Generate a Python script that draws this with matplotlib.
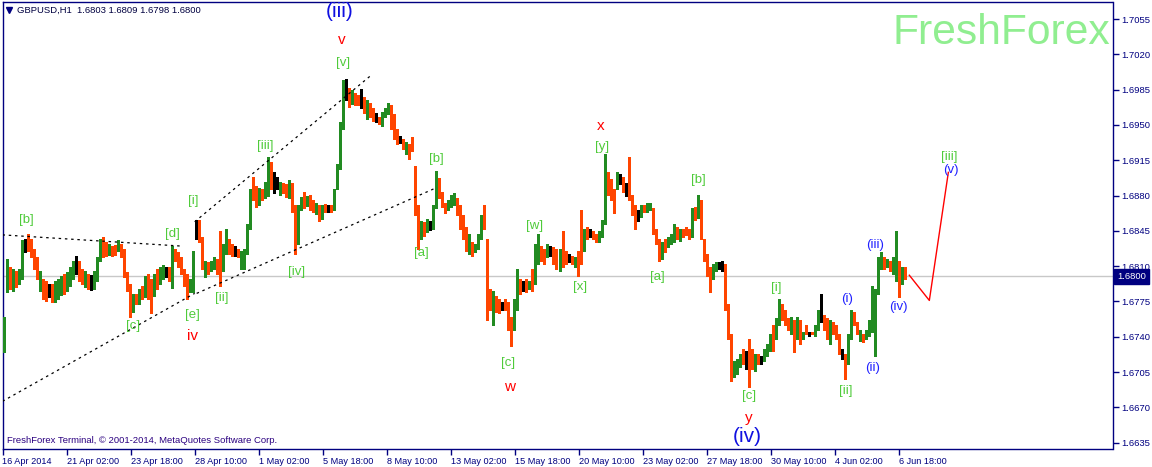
import numpy as np
import matplotlib
matplotlib.use("Agg")
import matplotlib.pyplot as plt
import matplotlib.transforms as mtransforms

plt.rcParams['font.family'] = ['Liberation Sans', 'DejaVu Sans']

# GBPUSD H1 in 3-hour steps (low / high / colour of the bar)
bar_low = [
    1.6725, 1.6784, 1.6787, 1.6785, 1.6789, 1.6792, 1.6797, 1.6824, 1.6825, 1.6819,
    1.6807, 1.6797, 1.6785, 1.6777, 1.6775, 1.6779, 1.6774, 1.6774, 1.6777, 1.6781,
    1.6782, 1.6785, 1.6790, 1.6797, 1.6802, 1.6795, 1.6792, 1.6789, 1.6787, 1.6786,
    1.6787, 1.6795, 1.6815, 1.6819, 1.6820, 1.6821, 1.6820, 1.6821, 1.6825, 1.6819,
    1.6799, 1.6785, 1.6760, 1.6765, 1.6772, 1.6772, 1.6777, 1.6779, 1.6777, 1.6764,
    1.6780, 1.6787, 1.6792, 1.6797, 1.6799, 1.6795, 1.6788, 1.6815, 1.6809, 1.6802,
    1.6790, 1.6777, 1.6784, 1.6784, 1.6837, 1.6834, 1.6807, 1.6799, 1.6802, 1.6805,
    1.6807, 1.6802, 1.6790, 1.6805, 1.6822, 1.6822, 1.6820, 1.6820, 1.6819, 1.6807,
    1.6807, 1.6822, 1.6847, 1.6876, 1.6869, 1.6871, 1.6876, 1.6878, 1.6880, 1.6886,
    1.6883, 1.6886, 1.6881, 1.6883, 1.6879, 1.6878, 1.6864, 1.6822, 1.6832, 1.6866,
    1.6868, 1.6870, 1.6866, 1.6864, 1.6862, 1.6855, 1.6857, 1.6864, 1.6864, 1.6864,
    1.6866, 1.6886, 1.6906, 1.6946, 1.6975, 1.6968, 1.6971, 1.6970, 1.6970, 1.6967,
    1.6962, 1.6956, 1.6958, 1.6954, 1.6953, 1.6951, 1.6949, 1.6958, 1.6961, 1.6946,
    1.6936, 1.6931, 1.6932, 1.6926, 1.6921, 1.6916, 1.6924, 1.6861, 1.6827, 1.6837,
    1.6840, 1.6844, 1.6846, 1.6847, 1.6868, 1.6878, 1.6869, 1.6863, 1.6866, 1.6869,
    1.6871, 1.6861, 1.6847, 1.6837, 1.6825, 1.6822, 1.6820, 1.6824, 1.6827, 1.6837,
    1.6847, 1.6757, 1.6767, 1.6752, 1.6765, 1.6764, 1.6767, 1.6767, 1.6747, 1.6731,
    1.6747, 1.6767, 1.6782, 1.6785, 1.6784, 1.6787, 1.6785, 1.6792, 1.6812, 1.6815,
    1.6812, 1.6819, 1.6820, 1.6812, 1.6807, 1.6805, 1.6809, 1.6812, 1.6814, 1.6812,
    1.6809, 1.6800, 1.6812, 1.6825, 1.6837, 1.6839, 1.6837, 1.6834, 1.6834, 1.6839,
    1.6852, 1.6881, 1.6876, 1.6863, 1.6886, 1.6891, 1.6884, 1.6880, 1.6876, 1.6861,
    1.6847, 1.6855, 1.6859, 1.6864, 1.6864, 1.6866, 1.6842, 1.6832, 1.6815, 1.6817,
    1.6824, 1.6829, 1.6832, 1.6834, 1.6837, 1.6835, 1.6839, 1.6841, 1.6837, 1.6839,
    1.6856, 1.6858, 1.6837, 1.6815, 1.6800, 1.6784, 1.6797, 1.6805, 1.6807, 1.6805,
    1.6767, 1.6738, 1.6696, 1.6700, 1.6703, 1.6710, 1.6713, 1.6708, 1.6690, 1.6708,
    1.6706, 1.6713, 1.6713, 1.6716, 1.6721, 1.6726, 1.6726, 1.6738, 1.6752, 1.6757,
    1.6752, 1.6747, 1.6743, 1.6725, 1.6738, 1.6733, 1.6738, 1.6743, 1.6741, 1.6743,
    1.6741, 1.6747, 1.6755, 1.6747, 1.6738, 1.6733, 1.6743, 1.6738, 1.6723, 1.6718,
    1.6698, 1.6713, 1.6738, 1.6752, 1.6743, 1.6736, 1.6735, 1.6738, 1.6741, 1.6745,
    1.6721, 1.6782, 1.6807, 1.6807, 1.6809, 1.6805, 1.6802, 1.6795, 1.6779, 1.6792,
    1.6797,
]
bar_high = [
    1.6760, 1.6817, 1.6809, 1.6807, 1.6805, 1.6807, 1.6836, 1.6837, 1.6842, 1.6837,
    1.6827, 1.6819, 1.6805, 1.6797, 1.6795, 1.6792, 1.6792, 1.6795, 1.6797, 1.6800,
    1.6802, 1.6804, 1.6809, 1.6815, 1.6820, 1.6815, 1.6807, 1.6805, 1.6802, 1.6801,
    1.6805, 1.6819, 1.6837, 1.6839, 1.6834, 1.6832, 1.6830, 1.6831, 1.6836, 1.6832,
    1.6827, 1.6804, 1.6792, 1.6782, 1.6782, 1.6787, 1.6790, 1.6800, 1.6802, 1.6797,
    1.6802, 1.6807, 1.6809, 1.6811, 1.6809, 1.6809, 1.6830, 1.6827, 1.6824, 1.6819,
    1.6807, 1.6802, 1.6797, 1.6825, 1.6856, 1.6856, 1.6839, 1.6815, 1.6814, 1.6815,
    1.6819, 1.6817, 1.6845, 1.6832, 1.6847, 1.6837, 1.6832, 1.6830, 1.6827, 1.6825,
    1.6827, 1.6852, 1.6886, 1.6898, 1.6889, 1.6887, 1.6886, 1.6893, 1.6918, 1.6913,
    1.6903, 1.6898, 1.6893, 1.6892, 1.6891, 1.6895, 1.6892, 1.6871, 1.6871, 1.6879,
    1.6884, 1.6880, 1.6881, 1.6876, 1.6873, 1.6871, 1.6871, 1.6872, 1.6871, 1.6871,
    1.6886, 1.6911, 1.6953, 1.6995, 1.6996, 1.6987, 1.6985, 1.6982, 1.6980, 1.6986,
    1.6978, 1.6975, 1.6972, 1.6967, 1.6962, 1.6958, 1.6963, 1.6967, 1.6972, 1.6970,
    1.6961, 1.6946, 1.6939, 1.6936, 1.6933, 1.6931, 1.6938, 1.6909, 1.6871, 1.6855,
    1.6854, 1.6857, 1.6855, 1.6871, 1.6904, 1.6897, 1.6884, 1.6873, 1.6876, 1.6881,
    1.6883, 1.6878, 1.6871, 1.6861, 1.6849, 1.6842, 1.6834, 1.6832, 1.6842, 1.6861,
    1.6871, 1.6837, 1.6787, 1.6785, 1.6780, 1.6777, 1.6774, 1.6777, 1.6774, 1.6760,
    1.6777, 1.6807, 1.6797, 1.6795, 1.6797, 1.6795, 1.6807, 1.6832, 1.6842, 1.6830,
    1.6827, 1.6832, 1.6830, 1.6829, 1.6827, 1.6827, 1.6845, 1.6825, 1.6822, 1.6820,
    1.6819, 1.6825, 1.6866, 1.6847, 1.6849, 1.6847, 1.6845, 1.6842, 1.6845, 1.6856,
    1.6921, 1.6903, 1.6896, 1.6886, 1.6903, 1.6901, 1.6898, 1.6892, 1.6918, 1.6881,
    1.6871, 1.6866, 1.6871, 1.6871, 1.6873, 1.6873, 1.6868, 1.6847, 1.6837, 1.6834,
    1.6837, 1.6839, 1.6842, 1.6852, 1.6849, 1.6847, 1.6847, 1.6849, 1.6847, 1.6868,
    1.6869, 1.6881, 1.6876, 1.6837, 1.6822, 1.6809, 1.6812, 1.6814, 1.6814, 1.6815,
    1.6812, 1.6772, 1.6743, 1.6716, 1.6718, 1.6723, 1.6728, 1.6726, 1.6738, 1.6728,
    1.6723, 1.6723, 1.6721, 1.6728, 1.6733, 1.6743, 1.6752, 1.6759, 1.6777, 1.6772,
    1.6767, 1.6759, 1.6760, 1.6757, 1.6760, 1.6757, 1.6745, 1.6752, 1.6745, 1.6745,
    1.6752, 1.6767, 1.6782, 1.6762, 1.6759, 1.6757, 1.6755, 1.6752, 1.6743, 1.6728,
    1.6723, 1.6743, 1.6767, 1.6765, 1.6755, 1.6747, 1.6743, 1.6747, 1.6757, 1.6790,
    1.6787, 1.6819, 1.6824, 1.6819, 1.6817, 1.6815, 1.6819, 1.6845, 1.6815, 1.6809,
    1.6809,
]
# g = up bar, r = down bar, k = doji
bar_dir = ("ggrgrggkrr" "rrgrrkrggg" "rgggkrrgrk" "gggrrgrrgr" "rrrgrgrgrr"
           "grggkrgrrr" "rrggkrrgrg" "grrggrrkrg" "gggrrgrggr" "kkgrrgrrgg"
           "rgrrgrgrkr" "ggggkrgrrk" "rgrrkrgggr" "rrkrgrrrrg" "rgkggrrrgg"
           "grrrrgrggg" "rrrgrrkrrr" "ggrkrgrggr" "rgkrrgrrkr" "grrgrkrrgg"
           "grrrgkrkrr" "rkgrggrrrg" "rgggrgrrrg" "rgrrrrggkk" "rrrgggrkrr"
           "grkgggrggr" "rrgrgrgrkr" "ggkrrgrrrk" "rggrrgrggg" "gggrgrggrg" "r")
hours_per_bar = 3
last_price = 1.6800

# projected path
proj_h = [906, 926, 945]
proj_p = [1.6801, 1.6776, 1.6903]

# dotted trend lines (hour, price) pairs
trend_lines = [
    ((0, 1.6841), (177, 1.6830)),
    ((0, 1.6676), (192, 1.6783)),
    ((194, 1.6783), (434, 1.6888)),
    ((192, 1.6854), (368, 1.6999)),
]

# wave labels
lab_text = ["(iii)", "v", "[v]", "[b]", "[d]", "[i]", "[iii]", "[iv]", "[ii]", "[e]",
            "[c]", "iv", "[a]", "[b]", "[w]", "[x]", "[c]", "w", "x", "[y]",
            "[a]", "[b]", "[i]", "[c]", "(i)", "(ii)", "(iii)", "(iv)", "[ii]", "y",
            "(iv)", "[iii]", "(v)"]
lab_h = [337, 339, 340, 24, 170, 191, 263, 294, 219, 190,
         130, 190, 418, 433, 532, 577, 505, 507, 598, 599,
         654, 695, 773, 746, 844, 869, 872, 895, 842, 746,
         744, 946, 948]
lab_p = [1.7062, 1.7034, 1.7011, 1.6856, 1.6842, 1.6875, 1.6929, 1.6804, 1.6778, 1.6762,
         1.6751, 1.6741, 1.6823, 1.6916, 1.6850, 1.6789, 1.6714, 1.6690, 1.6949, 1.6928,
         1.6799, 1.6895, 1.6788, 1.6681, 1.6777, 1.6709, 1.6831, 1.6769, 1.6686, 1.6659,
         1.6641, 1.6918, 1.6905]
lab_kind = ["B", "r", "g", "g", "g", "g", "g", "g", "g", "g",
            "g", "r", "g", "g", "g", "g", "g", "r", "r", "g",
            "g", "g", "g", "g", "b", "b", "b", "b", "g", "r",
            "B", "g", "b"]

tick_labels = ["16 Apr 2014", "21 Apr 02:00", "23 Apr 18:00", "28 Apr 10:00", "1 May 02:00",
               "5 May 18:00", "8 May 10:00", "13 May 02:00", "15 May 18:00", "20 May 10:00",
               "23 May 02:00", "27 May 18:00", "30 May 10:00", "4 Jun 02:00", "6 Jun 18:00"]
price_ticks = [1.6635, 1.6670, 1.6705, 1.6740, 1.6775, 1.6810, 1.6845, 1.6880,
               1.6915, 1.6950, 1.6985, 1.7020, 1.7055]

NAVY = '#000080'
UP = '#228B22'
DN = '#FF4500'
col_map = {'g': UP, 'r': DN, 'k': 'black'}
lab_style = {'g': ('#4FCB3A', 9.5), 'r': ('#FF0000', 11), 'b': ('#2020FF', 9.5), 'B': ('#1010E0', 15)}

W, H = 1152, 467
fig = plt.figure(figsize=(W / 100, H / 100), dpi=100)
ax = fig.add_axes([2.5 / W, (467 - 449) / H, 1110 / W, 447 / H])

n = min(len(bar_low), len(bar_high), len(bar_dir))
x = np.arange(n) * hours_per_bar + hours_per_bar / 2
cols = [col_map[c] for c in bar_dir[:n]]

ax.axhline(last_price, color='#C8C8C8', lw=1, zorder=1)
ax.vlines(x, bar_low[:n], bar_high[:n], colors=cols, linewidth=2.16, antialiased=False, zorder=3)

for (h0, p0), (h1, p1) in trend_lines:
    ax.plot([h0, h1], [p0, p1], color='black', lw=0.9, ls=(0, (2, 3)), zorder=4)

ax.plot(proj_h, proj_p, color='#FF0000', lw=1, zorder=4)

for t, h, p, k in zip(lab_text, lab_h, lab_p, lab_kind):
    c, fs = lab_style[k]
    ax.text(h, p, t, color=c, fontsize=fs, ha='center', va='center', zorder=5)

ax.set_xlim(0, 1109)
ax.set_ylim(1.66287, 1.70719)

ax.set_xticks([64 * i for i in range(len(tick_labels))])
ax.set_xticklabels(tick_labels, ha='left', fontsize=6.6, color=NAVY)
ax.yaxis.tick_right()
ax.set_yticks(price_ticks)
ax.set_yticklabels(['%.4f' % v for v in price_ticks], fontsize=6.8, color=NAVY)
ax.tick_params(axis='both', direction='out', length=4, width=1, color=NAVY)
ax.tick_params(axis='x', pad=1.5)
ax.tick_params(axis='y', pad=2)
for s in ax.spines.values():
    s.set_color(NAVY)
    s.set_linewidth(1)

# current price box
trans = mtransforms.blended_transform_factory(ax.transAxes, ax.transData)
ax.text(1.004, last_price, "1.6800", transform=trans, color='white', fontsize=6.8,
        ha='left', va='center', zorder=6,
        bbox=dict(boxstyle='square,pad=0.3', fc=NAVY, ec=NAVY))

ax.plot([0.0063], [0.982], marker='v', ms=4, color=NAVY, transform=ax.transAxes, clip_on=False)
ax.text(0.0135, 0.982, "GBPUSD,H1  1.6803 1.6809 1.6798 1.6800", transform=ax.transAxes,
        fontsize=6.8, color='#000040', ha='left', va='center')
ax.text(0.0045, 0.018, "FreshForex Terminal, \u00a9 2001-2014, MetaQuotes Software Corp.",
        transform=ax.transAxes, fontsize=6.8, color='#2B0080', ha='left', va='center')
ax.text(0.9982, 0.906, "FreshForex", transform=ax.transAxes, fontsize=30.7,
        color='#90EE90', ha='right', va='baseline', zorder=2)

fig.savefig("out.png", dpi=100)
